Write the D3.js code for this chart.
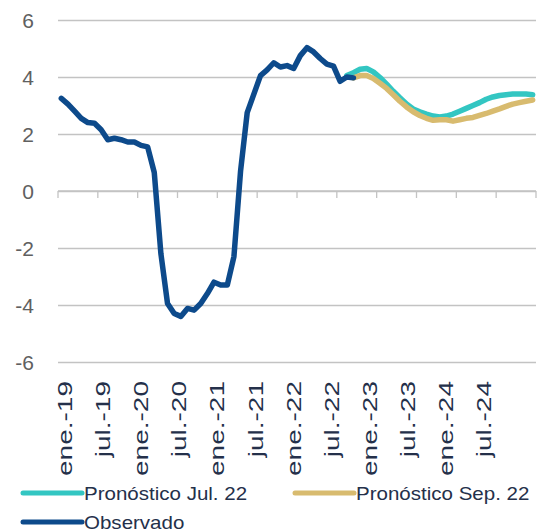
<!DOCTYPE html>
<html>
<head>
<meta charset="utf-8">
<script src="https://cdn.jsdelivr.net/npm/d3@7/dist/d3.min.js"></script>
<style>
  html, body { margin: 0; padding: 0; background: #ffffff; }
  svg { display: block; }
  text { font-family: "Liberation Sans", Arial, sans-serif; }
</style>
</head>
<body>
<svg id="chart" width="543" height="532"></svg>
<script>
// Monthly categories, ene.-19 .. dic.-24
const monthNames = ["ene.", "feb.", "mar.", "abr.", "may.", "jun.", "jul.", "ago.", "sep.", "oct.", "nov.", "dic."];
const years = ["19", "20", "21", "22", "23", "24"];
const months = years.flatMap(y => monthNames.map(m => m + "-" + y));

// Tick labels shown on the category axis (every six months)
const tickLabels = ["ene.-19", "jul.-19", "ene.-20", "jul.-20", "ene.-21", "jul.-21",
                    "ene.-22", "jul.-22", "ene.-23", "jul.-23", "ene.-24", "jul.-24"];
const yTicks = [-6, -4, -2, 0, 2, 4, 6];

// Observado: ene.-19 .. sep.-22
const observado = [
  3.25, 3.05, 2.8, 2.55, 2.4, 2.38, 2.15, 1.8, 1.85, 1.8, 1.72, 1.72,
  1.6, 1.55, 0.65, -2.2, -3.95, -4.3, -4.4, -4.12, -4.18, -3.95, -3.6, -3.2,
  -3.3, -3.3, -2.3, 0.7, 2.75, 3.4, 4.05, 4.25, 4.5, 4.35, 4.4, 4.3,
  4.75, 5.03, 4.88, 4.65, 4.45, 4.38, 3.85, 4.0, 3.97
];
// Pronóstico Jul. 22: ago.-22 .. dic.-24
const pronJulStart = "ago.-22";
const pronJul = [
  4.05, 4.15, 4.27, 4.3, 4.18, 3.98, 3.75, 3.5, 3.27, 3.05, 2.88, 2.78,
  2.7, 2.63, 2.6, 2.63, 2.7, 2.8, 2.9, 3.0, 3.1, 3.22, 3.3, 3.35,
  3.38, 3.4, 3.4, 3.4, 3.38
];
// Pronóstico Sep. 22: sep.-22 .. dic.-24
const pronSepStart = "sep.-22";
const pronSep = [
  3.97, 4.05, 4.05, 3.95, 3.78, 3.6, 3.38, 3.15, 2.95, 2.78, 2.65, 2.55,
  2.48, 2.5, 2.5, 2.45, 2.5, 2.55, 2.58, 2.65, 2.72, 2.8, 2.88, 2.97,
  3.05, 3.1, 3.15, 3.19
];

const seriesNames = ["Pronóstico Jul. 22", "Pronóstico Sep. 22", "Observado"];
const colors = { jul: "#33c6c2", sep: "#d8bb6f", obs: "#0d4a8b" };

const svg = d3.select("#chart");
const plot = { left: 58, right: 536, top: 20, bottom: 362 };

const x = d3.scaleBand().domain(months).range([plot.left, plot.right]).padding(0);
const y = d3.scaleLinear().domain([-6, 6]).range([plot.bottom, plot.top]);
const cx = m => x(m) + x.bandwidth() / 2;

// Horizontal gridlines with value labels (plain hyphen for negatives)
const yAxis = d3.axisLeft(y).tickValues(yTicks).tickSize(0).tickFormat(d => String(d));
const gy = svg.append("g").attr("transform", `translate(${plot.left},0)`).call(yAxis);
gy.select(".domain").remove();
gy.selectAll(".tick line")
  .attr("x2", plot.right - plot.left)
  .attr("stroke", "#c3c3c3").attr("stroke-width", 1.3);
gy.selectAll(".tick text")
  .attr("fill", "#606060").attr("font-size", 21)
  .attr("x", 34 - plot.left).attr("text-anchor", "end").attr("dy", "0.36em");

// Zero axis line with boundary tick marks every six months
const boundaries = d3.range(0, months.length + 1, 6);
const xb = d3.scaleLinear().domain([0, months.length]).range([plot.left, plot.right]);
const zero = svg.append("g");
zero.append("line")
  .attr("x1", plot.left).attr("x2", plot.right)
  .attr("y1", y(0)).attr("y2", y(0))
  .attr("stroke", "#c3c3c3").attr("stroke-width", 1.3);
zero.selectAll("line.tk").data(boundaries).join("line").attr("class", "tk")
  .attr("x1", d => xb(d)).attr("x2", d => xb(d))
  .attr("y1", y(0)).attr("y2", y(0) + 7)
  .attr("stroke", "#c3c3c3").attr("stroke-width", 1.3);

// Rotated category labels under the plot
const labelIdx = tickLabels.map(t => months.indexOf(t));
const lx = d3.scaleLinear().domain([0, months.length - 1]).range([72, 72 + 6.35 * (months.length - 1)]);
svg.append("g").selectAll("text").data(tickLabels).join("text")
  .attr("transform", (d, i) => `translate(${lx(labelIdx[i])},381) rotate(-90) scale(1.4,1)`)
  .attr("text-anchor", "end")
  .attr("font-size", 20)
  .attr("fill", "#24304a")
  .text(d => d);

// Lines
const line = d3.line().x(d => cx(d.m)).y(d => y(d.v)).curve(d3.curveLinear);
const toPts = (vals, start) => {
  const s = months.indexOf(start);
  return vals.map((v, i) => ({ m: months[s + i], v }));
};
const drawLine = (pts, color) => svg.append("path").datum(pts)
  .attr("d", line).attr("fill", "none").attr("stroke", color)
  .attr("stroke-width", 5.5).attr("stroke-linejoin", "round").attr("stroke-linecap", "round");

drawLine(toPts(pronJul, pronJulStart), colors.jul);
drawLine(toPts(pronSep, pronSepStart), colors.sep);
drawLine(toPts(observado, months[0]), colors.obs);

// Legend
const legendItems = [
  { name: seriesNames[0], color: colors.jul, x: 23, y: 493 },
  { name: seriesNames[1], color: colors.sep, x: 295, y: 493 },
  { name: seriesNames[2], color: colors.obs, x: 23, y: 522 }
];
const lg = svg.append("g").selectAll("g").data(legendItems).join("g")
  .attr("transform", d => `translate(${d.x},${d.y})`);
lg.append("line").attr("x1", 0).attr("x2", 59).attr("y1", 0).attr("y2", 0)
  .attr("stroke", d => d.color).attr("stroke-width", 5).attr("stroke-linecap", "round");
lg.append("text")
  .attr("transform", "translate(61,6.5) scale(1.14,1)")
  .attr("font-size", 18).attr("fill", "#24304a")
  .text(d => d.name);
</script>
</body>
</html>
